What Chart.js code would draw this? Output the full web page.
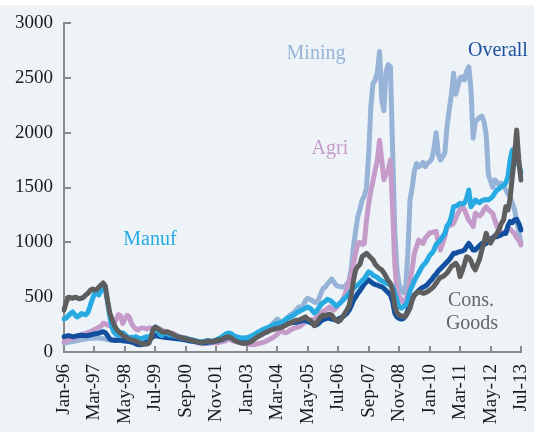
<!DOCTYPE html>
<html>
<head>
<meta charset="utf-8">
<script src="https://cdn.jsdelivr.net/npm/chart.js@4/dist/chart.umd.min.js"></script>
<style>
  html, body { margin: 0; padding: 0; }
  body { width: 534px; height: 432px; background: linear-gradient(#ffffff 0px, #ffffff 5px, #eef3f8 5px); overflow: hidden; }
  canvas { display: block; }
</style>
</head>
<body>
<canvas id="c" width="534" height="432"></canvas>
<script>
// ---- data ----
const monthNames = ['Jan','Feb','Mar','Apr','May','Jun','Jul','Aug','Sep','Oct','Nov','Dec'];
const startYear = 1996, monthCount = 211;
const categories = [];
for (let k = 0; k < monthCount; k++) {
  const y = startYear + Math.floor(k / 12);
  categories.push(monthNames[k % 12] + '-' + String(y % 100).padStart(2, '0'));
}
const tickLabels = ['Jan-96','Mar-97','May-98','Jul-99','Sep-00','Nov-01','Jan-03','Mar-04','May-05','Jul-06','Sep-07','Nov-08','Jan-10','Mar-11','May-12','Jul-13'];
const yTicks = [0, 500, 1000, 1500, 2000, 2500, 3000];

const mining = [
  82, 85, 88, 92, 95, 100, 105, 108, 112, 115, 118, 122,
  125, 128, 126, 130, 128, 125, 122, 118, 112, 108, 110, 112,
  108, 110, 105, 100, 104, 110, 112, 108, 104, 110, 115, 120,
  122, 128, 135, 140, 150, 165, 180, 175, 165, 160, 155, 150,
  148, 145, 140, 135, 130, 128, 125, 120, 115, 110, 105, 100,
  98, 95, 90, 85, 82, 80, 80, 82, 85, 88, 92, 95,
  100, 110, 120, 130, 125, 120, 115, 110, 105, 100, 98, 95,
  95, 100, 110, 120, 130, 145, 150, 165, 180, 200, 215, 240,
  260, 280, 300, 290, 270, 280, 300, 320, 340, 350, 370, 390,
  410, 400, 430, 470, 490, 480, 470, 455, 450, 480, 530, 580,
  590, 620, 640, 665, 640, 610, 600, 596, 590, 596, 620, 650,
  760, 960, 1100, 1234, 1300, 1386, 1420, 1500, 1800, 2237, 2450, 2480,
  2550, 2740, 2300, 2200, 2560, 2620, 2600, 1850, 1100, 750, 620, 560,
  540, 600, 900, 1386, 1500, 1650, 1720, 1690, 1700, 1730, 1690, 1720,
  1735, 1760, 1850, 2000, 1800, 1751, 1780, 1815, 2055, 2207, 2350, 2541,
  2350, 2420, 2500, 2510, 2480, 2560, 2600, 2400, 1950, 2100, 2120, 2140,
  2150, 2100, 1980, 1620, 1560, 1500, 1570, 1550, 1520, 1540, 1510, 1480,
  1440, 1410, 1360, 1300, 1200, 1100, 990
];
const agri = [
  94, 100, 110, 118, 125, 135, 140, 150, 160, 165, 170, 178,
  185, 195, 205, 215, 225, 235, 262, 258, 245, 240, 250, 260,
  300, 340, 330, 260, 300, 335, 320, 260, 230, 210, 200, 215,
  220, 215, 210, 218, 220, 215, 218, 222, 210, 200, 190, 185,
  180, 175, 170, 160, 150, 140, 135, 130, 125, 120, 115, 110,
  100, 90, 82, 78, 75, 78, 80, 85, 88, 85, 82, 85,
  90, 95, 100, 110, 115, 110, 100, 95, 90, 85, 80, 78,
  75, 70, 68, 65, 70, 75, 80, 85, 90, 100, 110, 120,
  130, 145, 160, 185, 190, 180, 175, 185, 200, 210, 220, 225,
  231, 245, 260, 275, 280, 285, 290, 300, 310, 330, 350, 370,
  380, 395, 410, 390, 383, 400, 430, 450, 474, 520, 580, 640,
  700, 800, 900, 990, 1000, 980, 990, 1200, 1350, 1470, 1560, 1660,
  1750, 1930, 1750, 1570, 1620, 1660, 1750, 1300, 800, 560, 505, 480,
  450, 470, 540, 657, 760, 900, 960, 1021, 1000, 990, 1040, 1060,
  1085, 1090, 1095, 1100, 1000, 930, 990, 1050, 1143, 1150, 1160, 1173,
  1220, 1265, 1300, 1325, 1300, 1249, 1200, 1180, 1143, 1265, 1250, 1240,
  1260, 1300, 1325, 1300, 1280, 1265, 1200, 1143, 1110, 1085, 1085, 1100,
  1131, 1120, 1100, 1080, 1040, 1020, 975
];
const manuf = [
  300, 310, 330, 350, 365, 340, 320, 330, 350, 345, 340, 360,
  420, 480, 530, 535, 520, 560, 590, 570, 460, 330, 230, 180,
  160, 150, 165, 175, 160, 140, 130, 135, 125, 140, 130, 120,
  125, 130, 140, 130, 150, 200, 230, 200, 160, 150, 165, 170,
  160, 155, 150, 145, 140, 135, 130, 128, 125, 120, 115, 110,
  105, 100, 95, 92, 95, 100, 105, 100, 98, 105, 110, 120,
  130, 145, 160, 170, 173, 165, 150, 140, 135, 130, 128, 130,
  128, 135, 145, 155, 165, 180, 190, 200, 210, 219, 225, 235,
  245, 255, 260, 265, 270, 280, 300, 310, 320, 330, 345, 360,
  368, 380, 390, 400, 410, 400, 380, 355, 370, 400, 430, 450,
  460, 480, 474, 460, 440, 420, 430, 450, 470, 490, 505, 530,
  560, 580, 600, 610, 630, 650, 670, 700, 730, 720, 700, 690,
  680, 660, 650, 640, 630, 620, 610, 596, 540, 470, 413, 400,
  413, 430, 474, 560, 600, 650, 687, 720, 760, 790, 810, 840,
  880, 900, 930, 980, 1000, 1020, 1052, 1080, 1150, 1173, 1234, 1325,
  1330, 1340, 1356, 1350, 1356, 1400, 1477, 1325, 1350, 1386, 1370, 1360,
  1380, 1386, 1390, 1386, 1400, 1420, 1450, 1477, 1490, 1508, 1520, 1538,
  1600, 1751, 1842, 1800, 1781, 1700, 1640
];
const consGoods = [
  383, 450, 500, 495, 490, 500, 495, 485, 490, 500, 520, 535,
  560, 575, 565, 570, 590, 610, 630, 600, 470, 360, 300, 250,
  210, 190, 170, 150, 140, 130, 115, 110, 105, 100, 90, 80,
  75, 70, 72, 80, 130, 210, 228, 215, 200, 185, 180, 185,
  180, 170, 160, 150, 140, 135, 130, 125, 120, 115, 110, 105,
  100, 95, 90, 88, 90, 95, 100, 98, 95, 100, 105, 110,
  115, 120, 130, 140, 135, 125, 110, 100, 90, 85, 80, 78,
  80, 85, 95, 110, 125, 140, 150, 160, 173, 180, 190, 200,
  205, 210, 215, 219, 225, 235, 245, 255, 265, 275, 285, 290,
  292, 300, 310, 320, 300, 292, 270, 240, 260, 290, 320, 337,
  330, 340, 345, 337, 310, 290, 277, 290, 320, 350, 383, 420,
  520, 650, 748, 780, 800, 870, 885, 900, 880, 860, 839, 800,
  780, 760, 748, 720, 687, 650, 626, 560, 413, 360, 337, 330,
  322, 330, 360, 400, 474, 520, 535, 550, 545, 535, 540, 550,
  565, 580, 600, 626, 657, 680, 687, 702, 720, 748, 780, 793,
  809, 780, 687, 740, 800, 869, 860, 830, 778, 748, 800, 850,
  930, 1000, 1082, 1021, 994, 1030, 1052, 1085, 1120, 1173, 1204, 1325,
  1295, 1400, 1600, 1781, 2024, 1751, 1569
];
const overall = [
  140, 145, 150, 145, 140, 142, 148, 150, 152, 150, 148, 150,
  155, 160, 165, 168, 172, 180, 185, 175, 150, 120, 110, 108,
  105, 110, 108, 105, 100, 98, 95, 90, 85, 75, 68, 65,
  70, 80, 95, 110, 125, 140, 150, 145, 140, 138, 135, 132,
  130, 128, 125, 122, 120, 118, 115, 112, 110, 105, 100, 98,
  95, 90, 88, 85, 84, 85, 88, 90, 92, 95, 100, 105,
  110, 115, 125, 135, 140, 130, 120, 110, 105, 100, 98, 100,
  100, 105, 115, 125, 135, 145, 155, 165, 175, 185, 195, 205,
  215, 222, 228, 231, 240, 248, 255, 260, 265, 268, 270, 272,
  277, 282, 290, 285, 278, 270, 260, 255, 246, 260, 280, 295,
  300, 310, 307, 300, 295, 292, 300, 310, 320, 335, 353, 380,
  420, 470, 500, 535, 560, 590, 620, 640, 657, 640, 625, 615,
  610, 600, 596, 580, 560, 540, 520, 460, 353, 320, 307, 300,
  307, 330, 383, 430, 480, 520, 540, 560, 580, 590, 600, 615,
  640, 660, 690, 710, 740, 760, 780, 800, 820, 840, 870, 900,
  900, 910, 915, 920, 930, 960, 991, 960, 930, 930, 950, 970,
  990, 980, 990, 1010, 1030, 1040, 1060, 1052, 1060, 1070, 1082, 1080,
  1150, 1190, 1180, 1204, 1210, 1170, 1113
];

// ---- series styling ----
const seriesNames = ['Cons. Goods', 'Manuf', 'Overall', 'Agri', 'Mining'];
const seriesData = [consGoods, manuf, overall, agri, mining];
const seriesColors = ['#5e5e5e', '#27aae1', '#12509f', '#c59bc9', '#97b4d8'];

// in-chart labels, anchored in data coordinates (month index, value)
const noteText = ['Mining', 'Overall', 'Agri', 'Manuf', 'Cons.', 'Goods'];
const noteAt = [[115.8, 2720], [199.4, 2750], [122.2, 1850], [39.5, 1020], [187, 465], [187.5, 255]];
const noteColor = ['#97b4d8', '#1c4f9c', '#c59bc9', '#27aae1', '#666666', '#666666'];

const FONT = "'Liberation Serif', 'Times New Roman', serif";
const AXIS = '#8a8a8a';

const innerTicks = {
  id: 'innerTicks',
  beforeDatasetsDraw(chart) {
    const ctx = chart.ctx, xs = chart.scales.x, ys = chart.scales.y, a = chart.chartArea;
    ctx.save();
    ctx.strokeStyle = AXIS;
    ctx.lineWidth = 2;
    ctx.beginPath();
    categories.forEach((c, k) => {
      if (tickLabels.includes(c)) {
        const px = Math.round(xs.getPixelForValue(k));
        ctx.moveTo(px, a.bottom);
        ctx.lineTo(px, a.bottom - 6);
      }
    });
    yTicks.forEach(v => {
      const py = Math.round(ys.getPixelForValue(v));
      ctx.moveTo(a.left, py);
      ctx.lineTo(a.left + 7, py);
    });
    ctx.stroke();
    ctx.restore();
  },
  afterDatasetsDraw(chart) {
    const ctx = chart.ctx, xs = chart.scales.x, ys = chart.scales.y;
    ctx.save();
    ctx.font = '20px ' + FONT;
    ctx.textAlign = 'center';
    ctx.textBaseline = 'middle';
    noteText.forEach((t, k) => {
      ctx.fillStyle = noteColor[k];
      ctx.fillText(t, xs.getPixelForValue(noteAt[k][0]), ys.getPixelForValue(noteAt[k][1]));
    });
    ctx.restore();
  }
};

new Chart(document.getElementById('c'), {
  type: 'line',
  data: {
    labels: categories,
    datasets: seriesNames.map((n, k) => ({
      label: n,
      data: seriesData[k],
      borderColor: seriesColors[k],
      backgroundColor: seriesColors[k],
      borderWidth: 5,
      pointRadius: 0,
      tension: 0,
      fill: false,
      borderJoinStyle: 'round',
      borderCapStyle: 'round'
    }))
  },
  options: {
    responsive: false,
    animation: false,
    events: [],
    layout: { padding: { top: 23, right: 13, bottom: 0, left: 0 } },
    plugins: { legend: { display: false }, tooltip: { enabled: false } },
    scales: {
      x: {
        type: 'category',
        offset: false,
        grid: { display: false, drawTicks: false },
        border: { display: true, color: AXIS, width: 2 },
        ticks: {
          autoSkip: false,
          minRotation: 90,
          maxRotation: 90,
          padding: 12,
          color: '#1a1a1a',
          font: { family: FONT, size: 19 },
          callback: function(val, idx) {
            const c = categories[idx];
            return tickLabels.includes(c) ? c : null;
          }
        },
        afterFit(scale) {
          scale.height = 80;
          scale.paddingLeft = 0;
          scale.paddingRight = 0;
        }
      },
      y: {
        min: 0,
        max: 3000,
        grid: { display: false, drawTicks: false },
        border: { display: true, color: AXIS, width: 2 },
        ticks: {
          stepSize: 500,
          padding: 11,
          color: '#1a1a1a',
          font: { family: FONT, size: 19 },
          callback: function(v) { return yTicks.includes(v) ? String(v) : null; }
        },
        afterFit(scale) {
          scale.width = 64;
          scale.paddingTop = 0;
          scale.paddingBottom = 0;
        }
      }
    }
  },
  plugins: [innerTicks]
});
</script>
</body>
</html>
